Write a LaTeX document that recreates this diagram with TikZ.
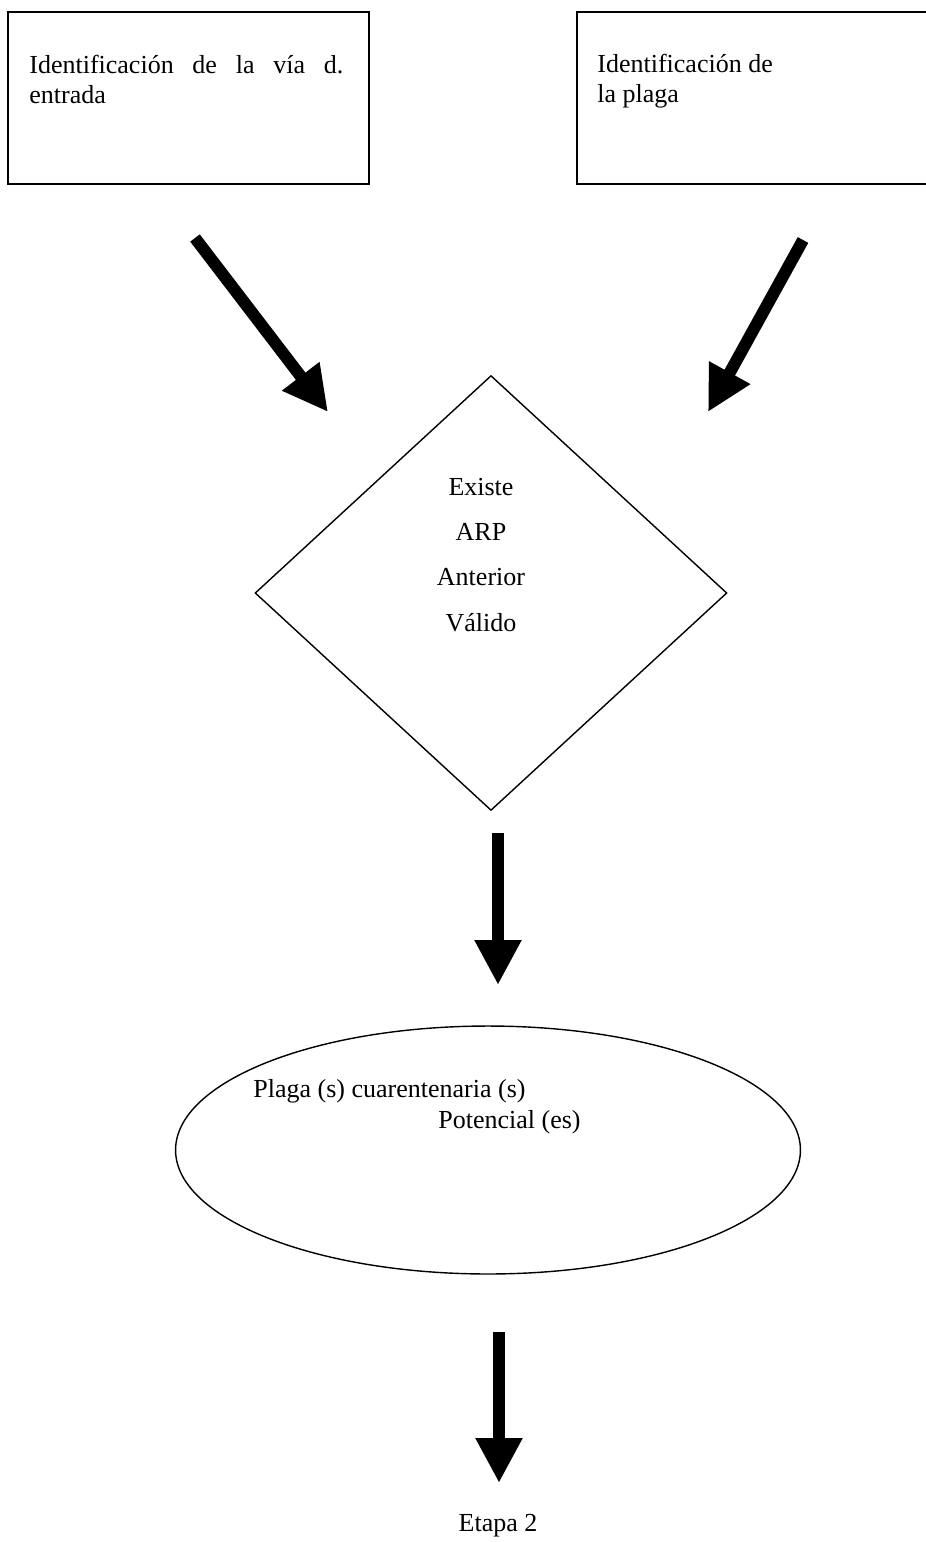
\documentclass[tikz,border=0pt]{standalone}
\usepackage{fontspec}
\setmainfont{Liberation Serif}
\usetikzlibrary{arrows.meta,positioning,shapes.geometric}

\begin{document}
\begin{tikzpicture}[x=0.02cm,y=-0.02cm,
>={Triangle[length=0.9cm,width=0.88cm]},
panel/.style={draw,line width=1.1pt,minimum width=7.22cm,minimum height=3.44cm,anchor=north west,inner sep=0pt},
txt/.style={font=\fontsize{14.8}{16.8}\selectfont,inner sep=0pt},
bigflow/.style={->,line width=0.24cm}]
\clip (0,0) rectangle (926,1542);
% entry boxes
\node[panel] (via) at (7,11) {};
\node[panel,minimum width=7.4cm] (plaga) at (576,11) {};
\node[txt,anchor=north west,text width=6.28cm,align=justify] (viatxt) at (29,55) {Identificación de la vía d. \mbox{entrada}};
\node[txt,anchor=north west,align=left] (plagatxt) at (597,54) {Identificación de\\la plaga};
% decision
\node[draw,diamond,line width=0.8pt,minimum width=9.44cm,minimum height=8.7cm,inner sep=0pt] (dec) at (491,593) {};
\node[txt,font=\fontsize{14.8}{25.7}\selectfont,align=center] (dectxt) at (481,555) {Existe\\ARP\\Anterior\\Válido};
% result
\node[draw,ellipse,line width=0.8pt,minimum width=12.5cm,minimum height=4.96cm,inner sep=0pt] (res) at (488,1150) {};
\node[txt,anchor=west] (restxt1) at (253,1091) {Plaga (s) cuarentenaria (s)};
\node[txt,anchor=west] (restxt2) at (438,1122) {Potencial (es)};
\node[txt] (etapa) at (498,1526) {Etapa 2};
% block arrows
\coordinate (a1s) at (195,238);
\coordinate (a1e) at (328,412);
\coordinate (a2s) at (803,240);
\coordinate (a2e) at (708,412);
\coordinate (a3s) at (498,833);
\coordinate (a3e) at (498,985);
\coordinate (a4s) at (499,1332);
\coordinate (a4e) at (499,1483);
\draw[bigflow] (a1s) -- (a1e);
\draw[bigflow] (a2s) -- (a2e);
\draw[bigflow] (a3s) -- (a3e);
\draw[bigflow] (a4s) -- (a4e);
\end{tikzpicture}
\end{document}
